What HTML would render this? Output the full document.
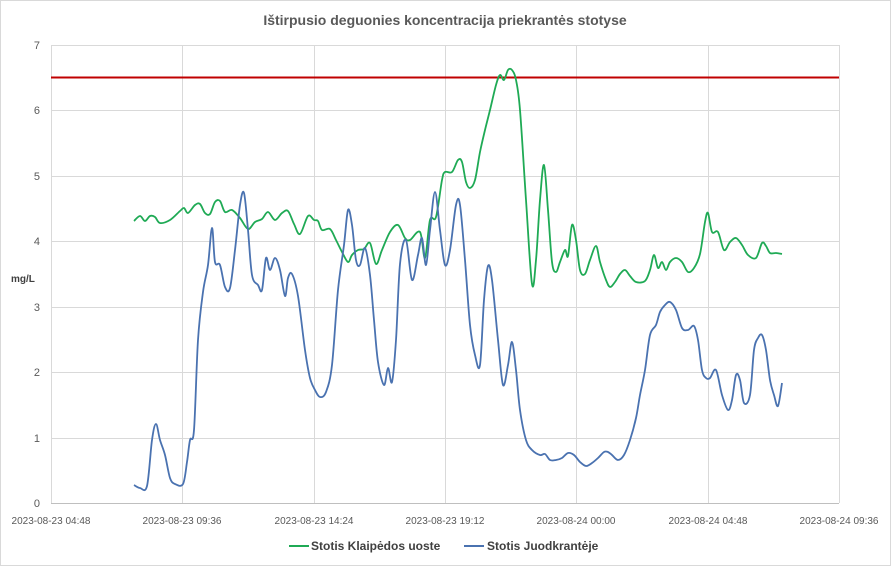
<!DOCTYPE html>
<html><head><meta charset="utf-8"><style>
body{margin:0;background:#fff;}
svg{display:block;font-family:"Liberation Sans",sans-serif;}
</style></head><body>
<svg width="891" height="566" viewBox="0 0 891 566">
<rect x="0.5" y="0.5" width="890" height="565" fill="#fff" stroke="#d9d9d9"/>
<text x="445" y="25" text-anchor="middle" font-size="14" font-weight="bold" fill="#595959">Ištirpusio deguonies koncentracija priekrantės stotyse</text>
<g stroke="#d9d9d9" stroke-width="1">
<line x1="51" y1="45.5" x2="839" y2="45.5"/><line x1="51" y1="110.5" x2="839" y2="110.5"/><line x1="51" y1="176.5" x2="839" y2="176.5"/><line x1="51" y1="241.5" x2="839" y2="241.5"/><line x1="51" y1="307.5" x2="839" y2="307.5"/><line x1="51" y1="372.5" x2="839" y2="372.5"/><line x1="51" y1="438.5" x2="839" y2="438.5"/>
<line x1="51.5" y1="45" x2="51.5" y2="503"/><line x1="182.5" y1="45" x2="182.5" y2="503"/><line x1="314.5" y1="45" x2="314.5" y2="503"/><line x1="445.5" y1="45" x2="445.5" y2="503"/><line x1="576.5" y1="45" x2="576.5" y2="503"/><line x1="708.5" y1="45" x2="708.5" y2="503"/><line x1="839.5" y1="45" x2="839.5" y2="503"/>
</g>
<line x1="51" y1="503.5" x2="839" y2="503.5" stroke="#bfbfbf"/>
<g font-size="11" fill="#595959" text-anchor="end">
<text x="40" y="49">7</text><text x="40" y="114">6</text><text x="40" y="180">5</text><text x="40" y="245">4</text><text x="40" y="311">3</text><text x="40" y="376">2</text><text x="40" y="442">1</text><text x="40" y="507">0</text>
</g>
<text x="11" y="282" font-size="10" font-weight="bold" fill="#404040">mg/L</text>
<g font-size="10" fill="#595959" text-anchor="middle">
<text x="51" y="524">2023-08-23 04:48</text><text x="182" y="524">2023-08-23 09:36</text><text x="314" y="524">2023-08-23 14:24</text><text x="445" y="524">2023-08-23 19:12</text><text x="576" y="524">2023-08-24 00:00</text><text x="708" y="524">2023-08-24 04:48</text><text x="839" y="524">2023-08-24 09:36</text>
</g>
<line x1="51" y1="77.5" x2="839" y2="77.5" stroke="#c00000" stroke-width="2"/>
<path id="g" fill="none" stroke="#1faa55" stroke-width="1.8" stroke-linejoin="round"/>
<path id="b" fill="none" stroke="#4a72b0" stroke-width="1.8" stroke-linejoin="round"/>
<line x1="289" y1="546" x2="309" y2="546" stroke="#1faa55" stroke-width="2"/>
<text x="311" y="550" font-size="12" font-weight="bold" fill="#404040">Stotis Klaipėdos uoste</text>
<line x1="464" y1="546" x2="484" y2="546" stroke="#4a72b0" stroke-width="2"/>
<text x="487" y="550" font-size="12" font-weight="bold" fill="#404040">Stotis Juodkrantėje</text>
</svg>
<script>
function cr(a){var p=[];for(var i=0;i<a.length;i+=2)p.push([a[i],a[i+1]]);var d="M"+p[0];for(var i=0;i<p.length-1;i++){var p0=p[i-1]||p[i],p1=p[i],p2=p[i+1],p3=p[i+2]||p2;var c1=[p1[0]+(p2[0]-p0[0])/6,p1[1]+(p2[1]-p0[1])/6],c2=[p2[0]-(p3[0]-p1[0])/6,p2[1]-(p3[1]-p1[1])/6];d+="C"+c1+" "+c2+" "+p2;}return d;}
var G=[134,221,140,216,145,221,150,216,155,217,160,223,170,220,180,211,184,208,188,213,195,205,200,204,205,213,210,214,215,202,220,201,225,212,232,210,240,218,248,229,255,222,262,219,268,212,275,220,282,213,288,211,294,224,300,234,308,216,314,220,318,221,322,230,330,229,336,240,342,252,348,262,352,255,358,250,364,249,370,243,376,264,382,250,390,232,398,225,405,238,410,240,420,232,425,258,430,220,436,217,442,180,445,172,452,172,458,160,462,162,466,182,470,188,475,180,480,152,485,130,490,110,496,85,500,75,504,80,508,70,512,70,516,80,520,110,526,200,532,284,536,260,540,200,544,165,548,210,552,262,556,272,560,262,565,250,568,256,572,225,576,240,580,270,585,274,590,260,596,246,600,262,606,280,610,287,615,282,620,274,625,270,630,276,636,282,645,281,650,270,654,255,658,268,662,262,666,270,670,262,676,258,682,262,688,272,694,268,700,254,705,222,708,213,712,232,718,232,724,250,730,242,736,238,742,245,748,255,756,258,762,243,766,246,770,253,776,253,782,254];
var B=[134,485,140,488,147,486,152,440,156,424,160,440,165,455,170,478,175,484,183,484,187,462,190,440,194,430,198,340,203,292,208,265,212,228,215,262,220,265,225,287,230,288,235,250,240,205,244,193,248,230,252,275,258,285,262,290,266,258,270,270,275,258,280,270,285,296,288,278,292,274,298,296,305,350,310,378,315,390,320,397,326,392,332,365,338,290,344,245,348,210,352,225,356,260,360,265,365,248,370,275,374,320,378,362,384,385,388,368,392,382,396,340,400,264,406,240,412,280,418,255,422,238,426,265,430,230,435,192,440,230,445,265,450,250,456,205,460,205,465,260,470,325,475,355,480,365,484,300,488,266,492,280,498,340,503,385,508,365,512,342,516,370,520,410,526,440,532,450,540,455,545,454,550,460,556,460,562,458,568,453,574,455,580,462,586,466,592,463,598,458,604,452,608,452,612,455,618,460,624,455,630,440,636,418,640,395,645,370,650,335,656,325,660,312,665,305,670,302,676,310,682,328,688,330,694,326,698,340,702,370,706,378,710,378,716,370,722,395,728,410,732,400,736,375,740,380,744,403,750,395,754,350,758,338,762,335,766,350,770,380,774,395,778,406,782,383];
document.getElementById("g").setAttribute("d",cr(G));
document.getElementById("b").setAttribute("d",cr(B));
</script>
</body></html>
